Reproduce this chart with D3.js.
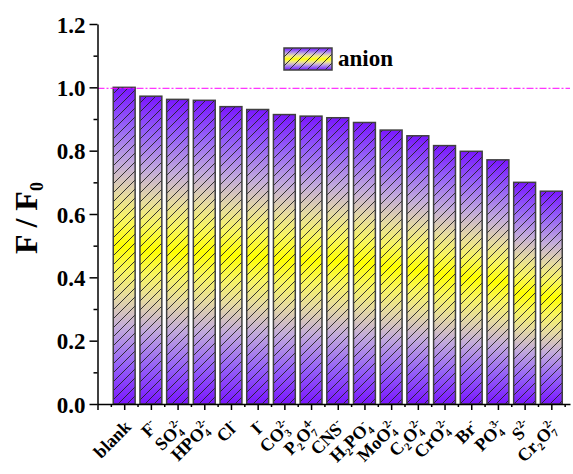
<!DOCTYPE html>
<html>
<head>
<meta charset="utf-8">
<script src="https://cdn.jsdelivr.net/npm/d3@7"></script>
<style>
  body { margin: 0; background: #fff; }
</style>
</head>
<body>
<svg id="chart" width="573" height="474"></svg>
<script>
// anion labels: _x = subscript, ^x = superscript
const anions = ["blank", "F^-", "SO_4^2-", "HPO_4^2-", "Cl^-", "I^-", "CO_3^2-", "P_2O_7^4-", "CNS^-",
  "H_2PO_4^-", "MoO_4^2-", "C_2O_4^2-", "CrO_4^2-", "Br^-", "PO_4^3-", "S^2-", "Cr_2O_7^2-"];
const ratios = [1.0, 0.972, 0.962, 0.959, 0.939, 0.930, 0.914, 0.909, 0.904,
  0.889, 0.865, 0.847, 0.816, 0.798, 0.771, 0.700, 0.672];
const yMajor = [0, 0.2, 0.4, 0.6, 0.8, 1.0, 1.2];
const yMinor = [0.1, 0.3, 0.5, 0.7, 0.9, 1.1];
const refLevel = 0.997;
const legendLabel = "anion";

const FONT = "Liberation Serif";
const svg = d3.select("#chart").attr("font-family", FONT).attr("font-weight", "bold");
const plot = {left: 97.5, right: 570, top: 24, bottom: 404};

const x = d3.scaleLinear().domain([0, 17.7]).range([plot.left, plot.right]);
const y = d3.scaleLinear().domain([0, 1.2]).range([plot.bottom, plot.top]);
const barW = (x(1) - x(0)) * 0.82;

// gradient + hatch
const defs = svg.append("defs");
const grad = defs.append("linearGradient").attr("id", "grad")
  .attr("x1", 0).attr("y1", 0).attr("x2", 0).attr("y2", 1);
[[0, "#7a16ff"], [0.12, "#9560f8"], [0.24, "#c2aadc"], [0.34, "#e6dba0"], [0.42, "#f8f560"], [0.5, "#ffff00"],
 [0.58, "#f8f560"], [0.66, "#e6dba0"], [0.76, "#c2aadc"], [0.88, "#9560f8"], [1, "#7a16ff"]]
  .forEach(st => grad.append("stop").attr("offset", st[0]).attr("stop-color", st[1]));

const s = 9;
const hatch = defs.append("pattern").attr("id", "hatch")
  .attr("patternUnits", "userSpaceOnUse").attr("width", s).attr("height", s);
hatch.append("path")
  .attr("d", `M${-s / 2},${s / 2} l${s},${-s} M0,${s} l${s},${-s} M${s / 2},${s * 1.5} l${s},${-s}`)
  .attr("stroke", "#222").attr("stroke-width", 0.9);

// bars
const bars = svg.append("g");
const data = anions.map((a, i) => ({label: a, pos: i + 1, value: ratios[i]}));
bars.selectAll("rect.fill").data(data).enter().append("rect")
  .attr("x", d => x(d.pos) - barW / 2)
  .attr("y", d => y(d.value))
  .attr("width", barW)
  .attr("height", d => y(0) - y(d.value))
  .attr("fill", "url(#grad)");
bars.selectAll("rect.hatch").data(data).enter().append("rect")
  .attr("x", d => x(d.pos) - barW / 2)
  .attr("y", d => y(d.value))
  .attr("width", barW)
  .attr("height", d => y(0) - y(d.value))
  .attr("fill", "url(#hatch)")
  .attr("stroke", "#404040")
  .attr("stroke-width", 1.5);

// reference line
svg.append("line")
  .attr("x1", plot.left).attr("x2", plot.right)
  .attr("y1", y(refLevel)).attr("y2", y(refLevel))
  .attr("stroke", "#ff00ff").attr("stroke-width", 1)
  .attr("stroke-dasharray", "7,2,2,2");

// y axis
const yAxisG = svg.append("g").attr("transform", `translate(${plot.left},0)`);
yAxisG.call(d3.axisLeft(y).tickValues(yMajor).tickSize(8).tickSizeOuter(0).tickFormat(d3.format(".1f")));
yAxisG.append("g").call(d3.axisLeft(y).tickValues(yMinor).tickSize(4).tickFormat(""))
  .select(".domain").remove();
yAxisG.attr("font-family", FONT).attr("font-weight", "bold").attr("font-size", 23);
yAxisG.selectAll("text").attr("x", -12).attr("dy", "0.35em").attr("fill", "#000");

// x axis
const xAxisG = svg.append("g").attr("transform", `translate(0,${plot.bottom})`);
xAxisG.call(d3.axisBottom(x).tickValues(d3.range(0, 18)).tickSize(6).tickSizeOuter(0).tickFormat(""));
xAxisG.append("g").call(d3.axisBottom(x).tickValues(d3.range(0.5, 17.6, 1)).tickSize(3).tickFormat(""))
  .select(".domain").remove();
svg.selectAll(".domain, .tick line").attr("stroke", "#000").attr("stroke-width", 1.5);

function addLabel(t, label) {
  const parts = label.match(/_\d+|\^[\d+-]+|[^_^]+/g);
  let off = 0, lastSub = 0;
  parts.forEach(p => {
    const kind = p[0] === "_" ? "sub" : p[0] === "^" ? "sup" : "main";
    const str = kind === "main" ? p : p.slice(1);
    const target = kind === "sub" ? 4 : kind === "sup" ? -8 : 0;
    const ts = t.append("tspan").text(str).attr("dy", target - off);
    if (kind !== "main") ts.attr("font-size", 11);
    if (kind === "sup" && lastSub) ts.attr("dx", -lastSub * 5.5);
    lastSub = kind === "sub" ? str.length : 0;
    off = target;
  });
}

const labels = svg.append("g");
data.forEach(d => {
  const t = labels.append("text")
    .attr("transform", `translate(${x(d.pos) + 8},${plot.bottom + 24}) rotate(-45)`)
    .attr("text-anchor", "end")
    .attr("font-size", 18);
  addLabel(t, d.label);
});

// y title
const yt = svg.append("text")
  .attr("transform", `translate(37,${(plot.top + plot.bottom) / 2 + 4}) rotate(-90)`)
  .attr("text-anchor", "middle")
  .attr("font-size", 32);
yt.append("tspan").text("F / F");
yt.append("tspan").text("0").attr("font-size", 18).attr("dy", 6);

// legend
const lg = svg.append("g").attr("transform", "translate(284,48)");
lg.append("rect").attr("width", 48).attr("height", 22).attr("fill", "url(#grad)");
lg.append("rect").attr("width", 48).attr("height", 22).attr("fill", "url(#hatch)")
  .attr("stroke", "#404040").attr("stroke-width", 1.5);
lg.append("text").attr("x", 54).attr("y", 18).attr("font-size", 23).text(legendLabel);
</script>
</body>
</html>
